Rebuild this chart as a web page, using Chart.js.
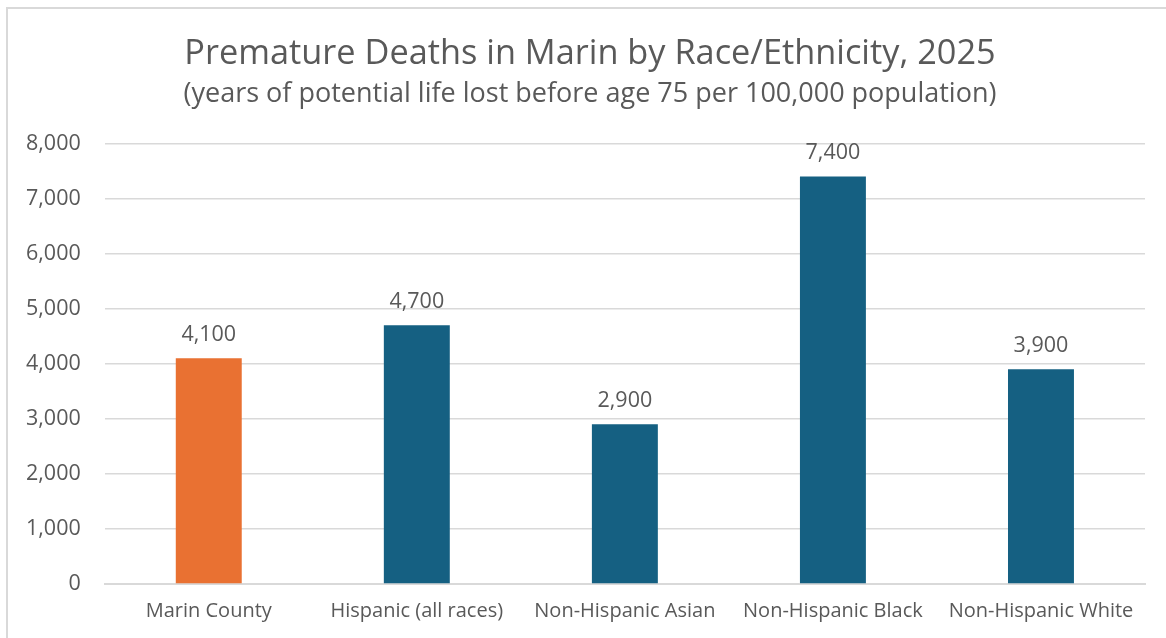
<!DOCTYPE html>
<html>
<head>
<meta charset="utf-8">
<script src="https://cdn.jsdelivr.net/npm/chart.js@4/dist/chart.umd.min.js"></script>
<style>
  html, body { margin: 0; padding: 0; background: #fff; overflow: hidden; }
  #frame {
    position: absolute; left: 6px; top: 7px; width: 1400px; height: 900px;
    border: 2px solid #d9d9d9; box-sizing: border-box;
  }
  #wrap { position: absolute; left: 0; top: 0; width: 1166px; height: 638px; }
</style>
</head>
<body>
<div id="frame"></div>
<div id="wrap"><canvas id="chart" width="1166" height="638"></canvas></div>
<script>
// Years of potential life lost before age 75 per 100,000 population
const categories = [
  "Marin County",
  "Hispanic (all races)",
  "Non-Hispanic Asian",
  "Non-Hispanic Black",
  "Non-Hispanic White"
];
const yplValues = [4100, 4700, 2900, 7400, 3900];
const yTicks = [0, 1000, 2000, 3000, 4000, 5000, 6000, 7000, 8000];

const FONT = "'Open Sans', sans-serif";
const TEXT = "#595959";
const COUNTY_COLOR = "#E97132";
const GROUP_COLOR = "#156082";

const fmt = v => v.toLocaleString("en-US");

// Value labels above each bar
const valueLabels = {
  id: "valueLabels",
  afterDatasetsDraw(chart) {
    const ctx = chart.ctx;
    const meta = chart.getDatasetMeta(0);
    ctx.save();
    ctx.font = "21.5px " + FONT;
    ctx.fillStyle = TEXT;
    ctx.textAlign = "center";
    ctx.textBaseline = "middle";
    meta.data.forEach((bar, i) => {
      ctx.fillText(fmt(chart.data.datasets[0].data[i]), bar.x, bar.y - 23.5);
    });
    ctx.restore();
  }
};

// Center the title and subtitle on the full frame rather than the padded box
const titleShift = {
  id: "titleShift",
  afterLayout(chart) {
    chart.boxes.forEach(box => {
      if (box.options && typeof box.options.text === "string") {
        box.left += 16.5;
        box.right += 16.5;
      }
    });
  }
};

new Chart(document.getElementById("chart"), {
  type: "bar",
  data: {
    labels: categories,
    datasets: [{
      data: yplValues,
      backgroundColor: categories.map((c, i) => i === 0 ? COUNTY_COLOR : GROUP_COLOR),
      categoryPercentage: 1,
      barPercentage: 0.317
    }]
  },
  options: {
    responsive: false,
    animation: false,
    layout: { padding: { top: 34, right: 21, bottom: 0, left: 2 } },
    plugins: {
      legend: { display: false },
      tooltip: { enabled: false },
      title: {
        display: true,
        text: "Premature Deaths in Marin by Race/Ethnicity, 2025",
        color: TEXT,
        font: { family: FONT, size: 34.3, weight: "normal", lineHeight: 1.2 },
        padding: { top: 0, bottom: 3 }
      },
      subtitle: {
        display: true,
        text: "(years of potential life lost before age 75 per 100,000 population)",
        color: TEXT,
        font: { family: FONT, size: 27, weight: "normal", lineHeight: 1.2 },
        padding: { top: 0, bottom: 33 }
      }
    },
    scales: {
      x: {
        grid: { display: false, drawTicks: false },
        border: { display: true, color: "#d9d9d9", width: 2 },
        ticks: { color: TEXT, font: { family: FONT, size: 20 }, padding: 15, maxRotation: 0 }
      },
      y: {
        min: 0,
        max: 8000,
        afterBuildTicks(axis) { axis.ticks = yTicks.map(v => ({ value: v })); },
        grid: { color: "#d9d9d9", lineWidth: 1.5, drawTicks: false },
        border: { display: false },
        ticks: {
          color: TEXT,
          font: { family: FONT, size: 21.5 },
          padding: 24,
          callback: v => fmt(v)
        }
      }
    }
  },
  plugins: [valueLabels, titleShift]
});
</script>
</body>
</html>
